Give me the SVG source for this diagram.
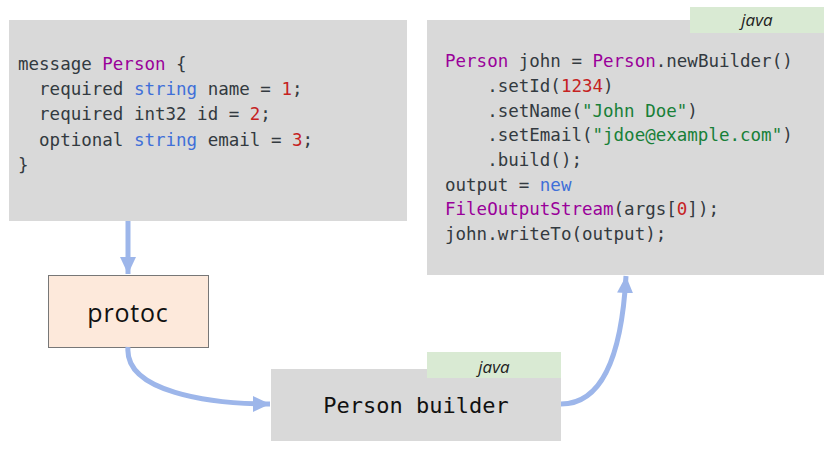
<svg xmlns="http://www.w3.org/2000/svg" width="828" height="452" viewBox="0 0 828 452">
<style>
.code{fill:#d9d9d9}
.tag{fill:#d9ead3}
.mono{font-family:"DejaVu Sans Mono","Liberation Mono",monospace;font-size:17.5px;fill:#333a40;white-space:pre}
.kw{fill:#990099}
.ty{fill:#3f6fd8}
.num{fill:#c5221f}
.str{fill:#188038}
.tagt{font-family:"Open Sans","Liberation Sans",sans-serif;font-style:italic;font-size:17px;fill:#222;text-anchor:middle}
.conn{fill:none;stroke:#9db6ea;stroke-width:5}
</style>
<defs>
<marker id="ah" markerUnits="userSpaceOnUse" markerWidth="18" markerHeight="18" viewBox="0 0 18 18" refX="17" refY="9" orient="auto">
<path d="M0,1 L17,9 L0,17 Z" fill="#9db6ea"/>
</marker>
</defs>
<g id="proto-def">
<rect class="code" x="9" y="20" width="398" height="201"/>
<text class="mono" x="18" y="70">message <tspan class="kw">Person</tspan> {</text>
<text class="mono" x="18" y="95">  required <tspan class="ty">string</tspan> name = <tspan class="num">1</tspan>;</text>
<text class="mono" x="18" y="120">  required int32 id = <tspan class="num">2</tspan>;</text>
<text class="mono" x="18" y="146">  optional <tspan class="ty">string</tspan> email = <tspan class="num">3</tspan>;</text>
<text class="mono" x="18" y="171">}</text>
</g>
<g id="java-usage">
<rect class="code" x="427" y="20" width="397" height="255"/>
<rect class="tag" x="690" y="7" width="134" height="26"/>
<text class="tagt" x="757" y="26">java</text>
<text class="mono" x="445" y="67"><tspan class="kw">Person</tspan> john = <tspan class="kw">Person</tspan>.newBuilder()</text>
<text class="mono" x="445" y="92">    .setId(<tspan class="num">1234</tspan>)</text>
<text class="mono" x="445" y="117">    .setName(<tspan class="str">"John Doe"</tspan>)</text>
<text class="mono" x="445" y="141">    .setEmail(<tspan class="str">"jdoe@example.com"</tspan>)</text>
<text class="mono" x="445" y="166">    .build();</text>
<text class="mono" x="445" y="191">output = <tspan class="ty">new</tspan></text>
<text class="mono" x="445" y="215"><tspan class="kw">FileOutputStream</tspan>(args[<tspan class="num">0</tspan>]);</text>
<text class="mono" x="445" y="240">john.writeTo(output);</text>
</g>
<g id="protoc">
<rect x="48.5" y="275.5" width="160" height="72" fill="#fde9db" stroke="#777" stroke-width="1"/>
<text x="128" y="322" text-anchor="middle" font-family="'Open Sans','Liberation Sans',sans-serif" font-size="25" letter-spacing="0.8" fill="#111">protoc</text>
</g>
<g id="person-builder">
<rect class="code" x="271" y="369" width="290" height="72"/>
<rect class="tag" x="427" y="352" width="134" height="26"/>
<text class="tagt" x="494" y="373">java</text>
<text x="416" y="413" text-anchor="middle" font-family="'DejaVu Sans Mono','Liberation Mono',monospace" font-size="22" fill="#111">Person builder</text>
</g>
<g id="connectors">
<path class="conn" d="M128,221 L128,274" marker-end="url(#ah)"/>
<path class="conn" d="M128,347 C124,392 210,404 270,404" marker-end="url(#ah)"/>
<path class="conn" d="M561,404 C605,404 622,350 626,276" marker-end="url(#ah)"/>
</g>
</svg>
